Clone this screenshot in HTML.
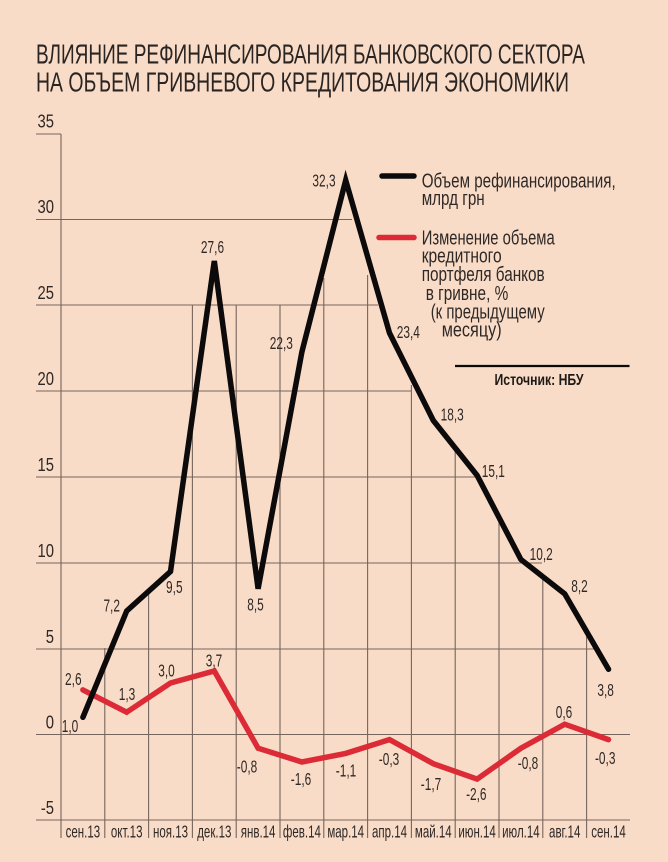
<!DOCTYPE html>
<html>
<head>
<meta charset="utf-8">
<style>
html,body{margin:0;padding:0;background:#f9dcc7;}
svg{display:block;}
text{font-family:"Liberation Sans","DejaVu Sans",sans-serif;}
</style>
</head>
<body>
<svg width="668" height="862" viewBox="0 0 668 862" xmlns="http://www.w3.org/2000/svg">
<rect width="668" height="862" fill="#f9dcc7"/>

<!-- Title -->
<text x="36" y="63.5" font-size="28" fill="#2a2422" textLength="549" lengthAdjust="spacingAndGlyphs">ВЛИЯНИЕ РЕФИНАНСИРОВАНИЯ БАНКОВСКОГО СЕКТОРА</text>
<text x="36" y="91.5" font-size="28" fill="#2a2422" textLength="533" lengthAdjust="spacingAndGlyphs">НА ОБЪЕМ ГРИВНЕВОГО КРЕДИТОВАНИЯ ЭКОНОМИКИ</text>

<!-- Horizontal gridlines -->
<g stroke="#76655c" stroke-width="1.1" fill="none">
<line x1="36" y1="134" x2="61" y2="134"/>
<line x1="36" y1="219.5" x2="352" y2="219.5"/>
<line x1="36" y1="305" x2="378" y2="305"/>
<line x1="36" y1="391" x2="411" y2="391"/>
<line x1="36" y1="477" x2="478" y2="477"/>
<line x1="36" y1="563" x2="542" y2="563"/>
<line x1="36" y1="649" x2="600" y2="649"/>
<line x1="36" y1="734.5" x2="630" y2="734.5"/>
<line x1="36" y1="820" x2="630" y2="820"/>
<!-- Vertical gridlines -->
<line x1="61" y1="134" x2="61" y2="838"/>
<line x1="104.8" y1="648" x2="104.8" y2="838"/>
<line x1="148.6" y1="591" x2="148.6" y2="838"/>
<line x1="192.4" y1="305" x2="192.4" y2="838"/>
<line x1="236.2" y1="305" x2="236.2" y2="838"/>
<line x1="280" y1="305" x2="280" y2="838"/>
<line x1="323.8" y1="278" x2="323.8" y2="838"/>
<line x1="367.6" y1="275" x2="367.6" y2="838"/>
<line x1="411.4" y1="385" x2="411.4" y2="838"/>
<line x1="455.2" y1="450" x2="455.2" y2="838"/>
<line x1="499" y1="522" x2="499" y2="838"/>
<line x1="542.8" y1="578" x2="542.8" y2="838"/>
<line x1="586.6" y1="635" x2="586.6" y2="838"/>
</g>

<!-- Y axis labels -->
<g font-size="18.5" fill="#2e2826" text-anchor="end">
<text transform="translate(54,127.5) scale(0.8,1)">35</text>
<text transform="translate(54,213) scale(0.8,1)">30</text>
<text transform="translate(54,299) scale(0.8,1)">25</text>
<text transform="translate(54,385) scale(0.8,1)">20</text>
<text transform="translate(54,471) scale(0.8,1)">15</text>
<text transform="translate(54,557) scale(0.8,1)">10</text>
<text transform="translate(54,643) scale(0.8,1)">5</text>
<text transform="translate(54,728.5) scale(0.8,1)">0</text>
<text transform="translate(54,814) scale(0.8,1)">-5</text>
</g>

<!-- Month labels -->
<g font-size="18" fill="#2e2826" text-anchor="middle">
<text transform="translate(82.9,837.5) scale(0.64,1)">сен.13</text>
<text transform="translate(126.7,837.5) scale(0.64,1)">окт.13</text>
<text transform="translate(170.5,837.5) scale(0.64,1)">ноя.13</text>
<text transform="translate(214.3,837.5) scale(0.64,1)">дек.13</text>
<text transform="translate(258.1,837.5) scale(0.64,1)">янв.14</text>
<text transform="translate(301.9,837.5) scale(0.64,1)">фев.14</text>
<text transform="translate(345.7,837.5) scale(0.64,1)">мар.14</text>
<text transform="translate(389.5,837.5) scale(0.64,1)">апр.14</text>
<text transform="translate(433.3,837.5) scale(0.64,1)">май.14</text>
<text transform="translate(477.1,837.5) scale(0.64,1)">июн.14</text>
<text transform="translate(520.9,837.5) scale(0.64,1)">июл.14</text>
<text transform="translate(564.7,837.5) scale(0.64,1)">авг.14</text>
<text transform="translate(608.5,837.5) scale(0.64,1)">сен.14</text>
</g>

<!-- Red series -->
<polyline fill="none" stroke="#dc2a36" stroke-width="5.5" stroke-linejoin="miter" stroke-linecap="round"
points="82.9,689.9 126.7,712.2 170.5,683 214.3,671 258.1,748.2 301.9,762 345.7,753.4 389.5,739.6 433.3,763.7 477.1,779.1 520.9,748.2 564.7,724.2 608.5,739.6"/>

<!-- Black series -->
<polyline fill="none" stroke="#0c0a0a" stroke-width="5.5" stroke-linejoin="miter" stroke-miterlimit="4" stroke-linecap="round"
points="82.9,717.3 126.7,611 170.5,571.5 214.3,261 258.1,588.7 301.9,351.9 345.7,180.3 389.5,333 433.3,420.5 477.1,475.4 520.9,559.5 564.7,593.8 608.5,669.3"/>

<!-- Black data labels -->
<g font-size="18" fill="#2e2826" text-anchor="middle">
<text transform="translate(70,732) scale(0.66,1)">1,0</text>
<text transform="translate(111.7,611.5) scale(0.66,1)">7,2</text>
<text transform="translate(174.3,593) scale(0.66,1)">9,5</text>
<text transform="translate(212.5,253) scale(0.66,1)">27,6</text>
<text transform="translate(255.5,610.5) scale(0.66,1)">8,5</text>
<text transform="translate(281.3,349) scale(0.66,1)">22,3</text>
<text transform="translate(324,186.5) scale(0.66,1)">32,3</text>
<text transform="translate(408.3,338) scale(0.66,1)">23,4</text>
<text transform="translate(452.2,420.5) scale(0.66,1)">18,3</text>
<text transform="translate(493.3,477) scale(0.66,1)">15,1</text>
<text transform="translate(541.2,560) scale(0.66,1)">10,2</text>
<text transform="translate(579.5,592) scale(0.66,1)">8,2</text>
<text transform="translate(605.6,696) scale(0.66,1)">3,8</text>
</g>

<!-- Red data labels -->
<g font-size="18" fill="#2e2826" text-anchor="middle">
<text transform="translate(73.3,685) scale(0.66,1)">2,6</text>
<text transform="translate(127,700) scale(0.66,1)">1,3</text>
<text transform="translate(166.5,676.5) scale(0.66,1)">3,0</text>
<text transform="translate(214,666.5) scale(0.66,1)">3,7</text>
<text transform="translate(247,772.5) scale(0.66,1)">-0,8</text>
<text transform="translate(301,785) scale(0.66,1)">-1,6</text>
<text transform="translate(346,776.5) scale(0.66,1)">-1,1</text>
<text transform="translate(389,765) scale(0.66,1)">-0,3</text>
<text transform="translate(431,790) scale(0.66,1)">-1,7</text>
<text transform="translate(476.3,800) scale(0.66,1)">-2,6</text>
<text transform="translate(528,769) scale(0.66,1)">-0,8</text>
<text transform="translate(564,718) scale(0.66,1)">0,6</text>
<text transform="translate(605.2,764) scale(0.66,1)">-0,3</text>
</g>

<!-- Legend -->
<line x1="382" y1="176" x2="414" y2="176" stroke="#0c0a0a" stroke-width="5.5" stroke-linecap="round"/>
<line x1="379" y1="237.5" x2="414" y2="237.5" stroke="#dc2a36" stroke-width="5.5" stroke-linecap="round"/>
<g font-size="20.5" fill="#2e2826">
<text x="421.7" y="187.3" textLength="194" lengthAdjust="spacingAndGlyphs">Объем рефинансирования,</text>
<text x="421.7" y="205" textLength="63" lengthAdjust="spacingAndGlyphs">млрд грн</text>
<text x="421.7" y="244.3" textLength="133" lengthAdjust="spacingAndGlyphs">Изменение объема</text>
<text x="421.7" y="262.5" textLength="80" lengthAdjust="spacingAndGlyphs">кредитного</text>
<text x="421.7" y="281" textLength="123" lengthAdjust="spacingAndGlyphs">портфеля банков</text>
<text x="425.7" y="300" textLength="82.6" lengthAdjust="spacingAndGlyphs">в гривне, %</text>
<text x="430.7" y="318.3" textLength="114" lengthAdjust="spacingAndGlyphs">(к предыдущему</text>
<text x="441.7" y="336.7" textLength="60" lengthAdjust="spacingAndGlyphs">месяцу)</text>
</g>

<!-- Source -->
<line x1="455" y1="366" x2="629.5" y2="366" stroke="#0c0a0a" stroke-width="2.2"/>
<text x="494.5" y="385" font-size="15.5" font-weight="bold" fill="#1e1a19" textLength="89" lengthAdjust="spacingAndGlyphs">Источник: НБУ</text>
</svg>
</body>
</html>
